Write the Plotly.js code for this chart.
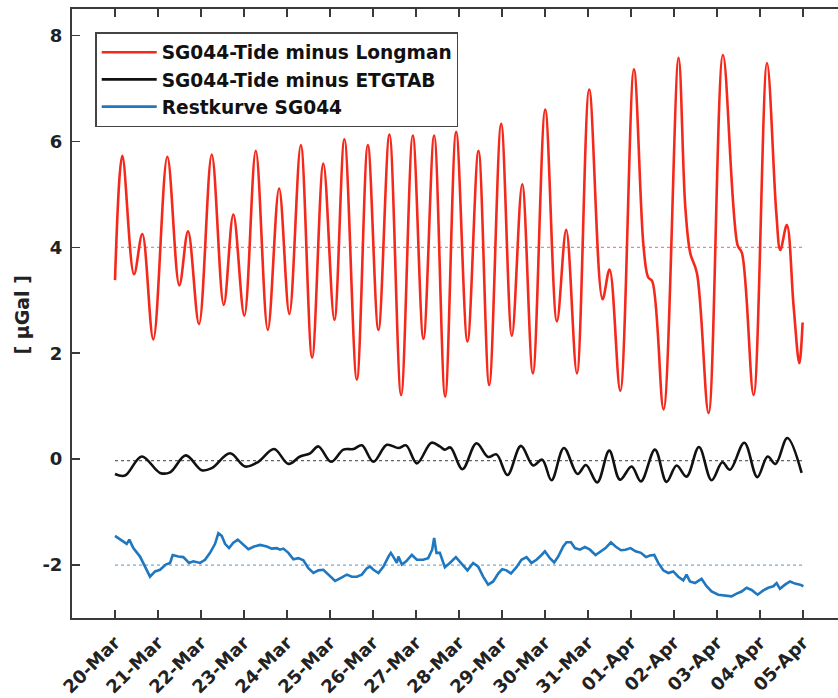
<!DOCTYPE html>
<html>
<head>
<meta charset="utf-8">
<script src="https://cdn.plot.ly/plotly-3.0.1.min.js"></script>
<style>
html, body { margin:0; padding:0; overflow:hidden; background:#fff; }
#chart { width:880px; height:698px; }
</style>
</head>
<body>
<div id="chart"></div>
<script>
// ---- data (days after 20-Mar, value in µGal) ----
const seriesNames = ["SG044-Tide minus Longman", "SG044-Tide minus ETGTAB", "Restkurve SG044"];
const tickLabels = ["20-Mar","21-Mar","22-Mar","23-Mar","24-Mar","25-Mar","26-Mar","27-Mar","28-Mar","29-Mar","30-Mar","31-Mar","01-Apr","02-Apr","03-Apr","04-Apr","05-Apr"];
const refLevels = [4, -0.03, -2];

const longmanDay = [0.000,0.170,0.442,0.635,0.891,1.217,1.496,1.698,1.954,2.250,2.529,2.752,3.008,3.274,3.553,3.816,4.055,4.321,4.584,4.846,5.102,5.335,5.624,5.880,6.126,6.382,6.654,6.926,7.173,7.422,7.678,7.934,8.197,8.453,8.702,8.981,9.230,9.470,9.718,10.005,10.277,10.493,10.742,11.028,11.338,11.501,11.750,12.068,12.292,12.401,12.494,12.757,13.106,13.262,13.378,13.534,13.804,14.139,14.479,14.581,14.851,15.163,15.379,15.472,15.624,15.782,15.914,15.991];
const longmanVal = [3.38,5.73,3.49,4.25,2.26,5.71,3.28,4.30,2.55,5.75,2.91,4.62,2.71,5.82,2.44,5.11,2.74,5.93,1.92,5.58,2.63,6.04,1.50,5.93,2.44,6.13,1.21,6.11,2.27,6.11,1.18,6.18,2.22,5.82,1.40,6.33,2.33,5.19,1.62,6.60,2.60,4.33,1.62,6.98,3.02,3.58,1.29,7.36,4.01,3.43,3.36,0.94,7.58,4.77,3.89,3.51,0.87,7.63,4.04,3.89,1.21,7.48,4.65,3.95,4.42,2.88,1.81,2.58];

const etgtabDay = [0,0.233,0.621,1.047,1.280,1.645,2.017,2.250,2.676,3.025,3.334,3.699,4.032,4.304,4.537,4.730,5.026,5.312,5.544,5.740,6.010,6.322,6.591,6.771,7.020,7.359,7.555,7.671,7.801,8.081,8.406,8.678,8.872,9.128,9.439,9.726,9.935,10.151,10.440,10.756,10.952,11.215,11.494,11.743,12.013,12.232,12.557,12.827,13.060,13.292,13.581,13.874,14.123,14.302,14.635,14.937,15.177,15.363,15.635,15.968];
const etgtabVal = [-0.28,-0.31,0.05,-0.26,-0.25,0.07,-0.21,-0.17,0.11,-0.14,-0.05,0.19,-0.09,0.05,0.11,0.24,-0.05,0.18,0.19,0.26,-0.05,0.27,0.21,0.26,-0.08,0.31,0.24,0.18,0.22,-0.19,0.30,0.04,0.09,-0.30,0.25,-0.12,-0.01,-0.40,0.21,-0.28,-0.11,-0.44,0.16,-0.39,-0.14,-0.42,0.18,-0.43,-0.12,-0.33,0.23,-0.40,-0.06,-0.20,0.31,-0.34,0.05,-0.09,0.40,-0.26];

const restDay = [0,0.116,0.272,0.333,0.426,0.582,0.698,0.814,0.931,1.047,1.180,1.280,1.342,1.473,1.589,1.722,1.822,1.978,2.094,2.210,2.327,2.403,2.483,2.559,2.652,2.752,2.855,2.985,3.101,3.234,3.374,3.530,3.646,3.763,3.839,3.916,4.032,4.148,4.265,4.381,4.497,4.614,4.730,4.846,4.963,5.119,5.235,5.391,5.507,5.624,5.740,5.856,5.933,6.010,6.126,6.243,6.359,6.415,6.491,6.554,6.591,6.671,6.771,6.903,7.020,7.166,7.283,7.376,7.422,7.476,7.555,7.671,7.787,7.927,8.043,8.197,8.329,8.446,8.562,8.678,8.795,8.911,9.004,9.104,9.207,9.337,9.453,9.570,9.686,9.802,9.919,9.998,10.114,10.214,10.307,10.424,10.500,10.603,10.696,10.812,10.928,11.045,11.175,11.301,11.408,11.533,11.640,11.766,11.873,11.989,12.106,12.231,12.348,12.441,12.541,12.634,12.750,12.867,12.983,13.099,13.216,13.292,13.371,13.488,13.641,13.757,13.874,14.030,14.186,14.339,14.456,14.572,14.688,14.804,14.944,15.077,15.193,15.310,15.386,15.465,15.582,15.698,15.814,15.933,16.010];
const restVal = [-1.45,-1.52,-1.60,-1.52,-1.68,-1.84,-2.03,-2.22,-2.12,-2.09,-1.99,-1.96,-1.81,-1.84,-1.85,-1.96,-1.93,-1.96,-1.90,-1.77,-1.60,-1.40,-1.45,-1.60,-1.68,-1.58,-1.52,-1.62,-1.70,-1.65,-1.62,-1.65,-1.69,-1.68,-1.71,-1.69,-1.77,-1.89,-1.87,-1.91,-2.06,-2.15,-2.10,-2.09,-2.18,-2.30,-2.25,-2.18,-2.22,-2.22,-2.18,-2.06,-2.03,-2.09,-2.15,-2.03,-1.84,-1.77,-1.87,-1.96,-1.84,-1.99,-1.93,-1.81,-1.90,-1.90,-1.87,-1.71,-1.49,-1.77,-1.77,-2.04,-1.96,-1.85,-1.96,-2.10,-1.96,-2.03,-2.22,-2.37,-2.31,-2.16,-2.08,-2.10,-2.16,-2.04,-1.90,-1.85,-1.96,-1.90,-1.81,-1.74,-1.87,-1.95,-1.84,-1.65,-1.57,-1.57,-1.68,-1.71,-1.66,-1.71,-1.81,-1.74,-1.68,-1.57,-1.65,-1.72,-1.71,-1.68,-1.74,-1.77,-1.85,-1.82,-1.81,-1.96,-2.10,-2.15,-2.12,-2.22,-2.29,-2.18,-2.31,-2.34,-2.26,-2.40,-2.50,-2.56,-2.58,-2.59,-2.54,-2.50,-2.43,-2.47,-2.56,-2.48,-2.43,-2.40,-2.34,-2.45,-2.37,-2.31,-2.35,-2.37,-2.40];

// ---- helpers ----
const base = Date.UTC(2019, 2, 20);
const toX = d => base + d * 86400000;
const tickVals = tickLabels.map((_, i) => toX(i));
const refX = [toX(0), toX(tickLabels.length - 1)];

const FONT = "DejaVu Sans, Verdana, sans-serif";
const colors = ["#f5291b", "#111111", "#1f77c0"];
const refColors = ["rgba(240,90,80,0.75)", "rgba(60,60,60,0.8)", "rgba(80,150,210,0.8)"];

const traces = [];
refLevels.forEach((lv, i) => {
  traces.push({
    x: refX, y: [lv, lv], mode: "lines", showlegend: false, hoverinfo: "skip",
    line: { color: refColors[i], width: 1.3, dash: "dot" }
  });
});
traces.push({
  x: longmanDay.map(toX), y: longmanVal, name: seriesNames[0], mode: "lines",
  line: { color: colors[0], width: 2.6, shape: "spline", smoothing: 1.0 }
});
traces.push({
  x: etgtabDay.map(toX), y: etgtabVal, name: seriesNames[1], mode: "lines",
  line: { color: colors[1], width: 2.6, shape: "spline", smoothing: 1.0 }
});
traces.push({
  x: restDay.map(toX), y: restVal, name: seriesNames[2], mode: "lines",
  line: { color: colors[2], width: 2.6 }
});

const axisCommon = {
  showline: true, linecolor: "#3a3a3a", linewidth: 2, mirror: "ticks",
  ticks: "inside", ticklen: 8, tickwidth: 1.5, tickcolor: "#3a3a3a",
  showgrid: false, zeroline: false,
  tickfont: { family: FONT, size: 18, weight: "bold", color: "#222" }
};

const layout = {
  width: 880, height: 698,
  margin: { l: 72, r: 34, t: 9, b: 80 },
  paper_bgcolor: "#fff", plot_bgcolor: "#fff",
  showlegend: true,
  xaxis: Object.assign({}, axisCommon, {
    type: "date",
    range: [Date.UTC(2019, 2, 19), Date.UTC(2019, 3, 6)],
    tickmode: "array", tickvals: tickVals, ticktext: tickLabels,
    tickangle: -45, ticklabelstandoff: 5
  }),
  yaxis: Object.assign({}, axisCommon, {
    range: [-3, 8.5],
    tickmode: "array", tickvals: [-2, 0, 2, 4, 6, 8], ticktext: ["-2", "0", "2", "4", "6", "8"],
    ticklabelstandoff: 4
  }),
  legend: {
    x: 0.030, y: 0.962, xanchor: "left", yanchor: "top",
    bgcolor: "#fff", bordercolor: "#444", borderwidth: 1.5,
    font: { family: FONT, size: 18.6, weight: "bold", color: "#111" },
    itemwidth: 55, tracegroupgap: 0
  },
  annotations: [{
    xref: "paper", yref: "paper", x: -0.064, y: 0.499,
    xanchor: "center", yanchor: "middle", showarrow: false,
    text: "[ μGal ]", textangle: -90,
    font: { family: FONT, size: 19, weight: "bold", color: "#222" }
  }]
};

Plotly.newPlot("chart", traces, layout, { displayModeBar: false, staticPlot: true });
</script>
</body>
</html>
